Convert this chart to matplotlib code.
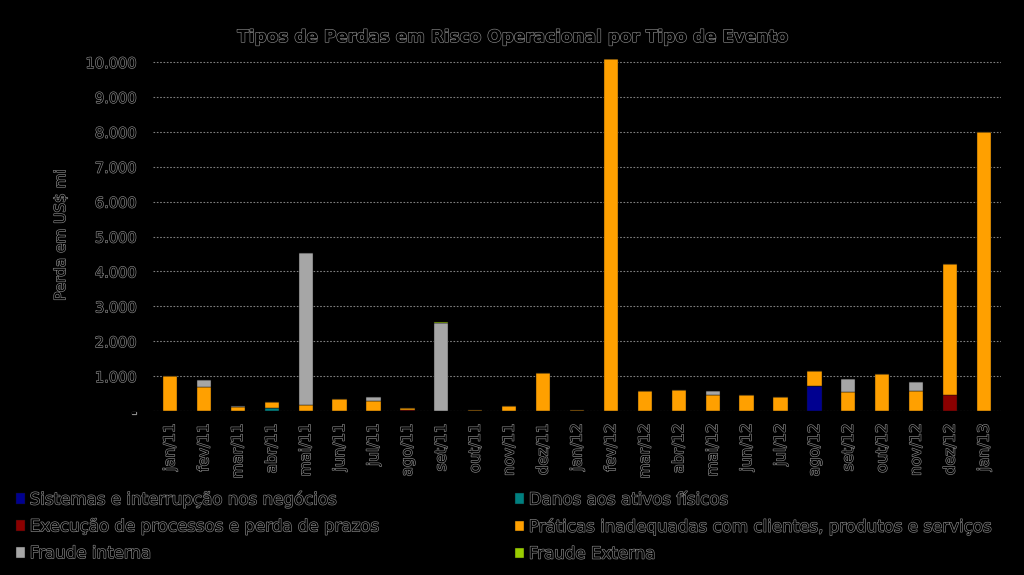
import matplotlib
matplotlib.use("Agg")
import matplotlib.pyplot as plt
import matplotlib.patheffects as pe
import numpy as np

categories = ["jan/11", "fev/11", "mar/11", "abr/11", "mai/11", "jun/11", "jul/11",
              "ago/11", "set/11", "out/11", "nov/11", "dez/11", "jan/12", "fev/12",
              "mar/12", "abr/12", "mai/12", "jun/12", "jul/12", "ago/12", "set/12",
              "out/12", "nov/12", "dez/12", "jan/13"]

sistemas = [0, 0, 0, 0, 0, 0, 0, 0, 0, 0, 0, 0, 0, 0, 0, 0, 0, 0, 0, 720, 0, 0, 0, 0, 0]
danos = [0, 0, 0, 80, 0, 0, 0, 0, 0, 0, 0, 0, 0, 0, 0, 0, 0, 0, 0, 0, 0, 0, 0, 0, 0]
execucao = [0, 0, 0, 0, 0, 0, 0, 25, 0, 0, 0, 0, 0, 0, 0, 0, 0, 0, 0, 0, 0, 0, 0, 460, 0]
praticas = [1000, 690, 110, 180, 170, 340, 300, 75, 0, 40, 150, 1090, 40, 10090,
            580, 610, 465, 460, 400, 430, 545, 1070, 575, 3750, 7990]
fraude_interna = [0, 200, 40, 0, 4370, 0, 100, 0, 2520, 0, 0, 0, 0, 0,
                  0, 0, 110, 0, 0, 0, 375, 0, 265, 0, 0]
fraude_externa = [0, 0, 0, 0, 0, 0, 0, 0, 30, 0, 0, 0, 0, 0,
                  0, 0, 0, 0, 0, 0, 0, 0, 0, 0, 0]

series_names = ["Sistemas e interrupção nos negócios", "Danos aos ativos físicos",
                "Execução de processos e perda de prazos",
                "Práticas inadequadas com clientes, produtos e serviços",
                "Fraude interna", "Fraude Externa"]
series_colors = ["#000090", "#008080", "#8B0000", "#FFA000", "#A6A6A6", "#99CC00"]

yticks = [0, 1000, 2000, 3000, 4000, 5000, 6000, 7000, 8000, 9000, 10000]
ytick_labels = ["-", "1.000", "2.000", "3.000", "4.000", "5.000", "6.000",
                "7.000", "8.000", "9.000", "10.000"]

plt.rcParams['font.family'] = ['DejaVu Sans']
txt_fx = [pe.withStroke(linewidth=0.9, foreground="#8a8a8a")]
TXT = "#000000"

fig = plt.figure(figsize=(10.24, 5.75), dpi=100, facecolor="black")
px_per_unit = (411 - 62) / 10000.0
ytop = 10100
top_px = 411 - ytop * px_per_unit
ax = fig.add_axes([153/1024, 1 - 411/575, (1001 - 153)/1024, (411 - top_px)/575])
ax.set_facecolor("black")

x = np.arange(len(categories))
data = [sistemas, danos, execucao, praticas, fraude_interna, fraude_externa]
bottom = np.zeros(len(categories))
handles = []
for vals, name, col in zip(data, series_names, series_colors):
    v = np.array(vals, dtype=float)
    b = ax.bar(x, v, bottom=bottom, width=0.42, color=col, label=name,
               edgecolor="#111111", linewidth=0.3, zorder=3)
    handles.append(b)
    bottom += v

ax.set_xlim(-0.5, len(categories) - 0.5)
ax.set_ylim(0, ytop)
ax.set_yticks(yticks)
ax.set_yticklabels(ytick_labels)
ax.set_xticks(x)
ax.set_xticklabels(categories, rotation=90)
ax.tick_params(axis="both", length=0, colors=TXT)
ax.tick_params(axis="y", pad=11.5, labelsize=10.5)
ax.tick_params(axis="x", pad=9, labelsize=11)
for lab in ax.get_xticklabels() + ax.get_yticklabels():
    lab.set_path_effects(txt_fx)
for s in ax.spines.values():
    s.set_visible(False)
ax.yaxis.grid(True, linestyle=(0, (1.5, 1.5)), color="#7f7f7f", linewidth=0.8, zorder=0)
ax.set_axisbelow(True)

ax.set_ylabel("Perda em US$ mi", fontsize=11, color=TXT, path_effects=txt_fx)
ax.yaxis.set_label_coords(-0.10, 0.50)

fig.text(0.5, 1 - 37/575, "Tipos de Perdas em Risco Operacional por Tipo de Evento",
         ha="center", va="center", fontsize=12.2, fontweight="bold", color=TXT,
         path_effects=txt_fx)

order = [0, 2, 4, 1, 3, 5]
leg = fig.legend([handles[i] for i in order], [series_names[i] for i in order],
                 ncol=2, loc="upper left", bbox_to_anchor=(0.016, 1 - 490/575),
                 frameon=False, fontsize=12, handlelength=0.5, handleheight=0.6,
                 handletextpad=0.3, columnspacing=8.25, labelspacing=0.53,
                 borderaxespad=0, borderpad=0)
for t in leg.get_texts():
    t.set_color(TXT)
    t.set_path_effects(txt_fx)

fig.savefig("out.png", dpi=100, facecolor="black")
